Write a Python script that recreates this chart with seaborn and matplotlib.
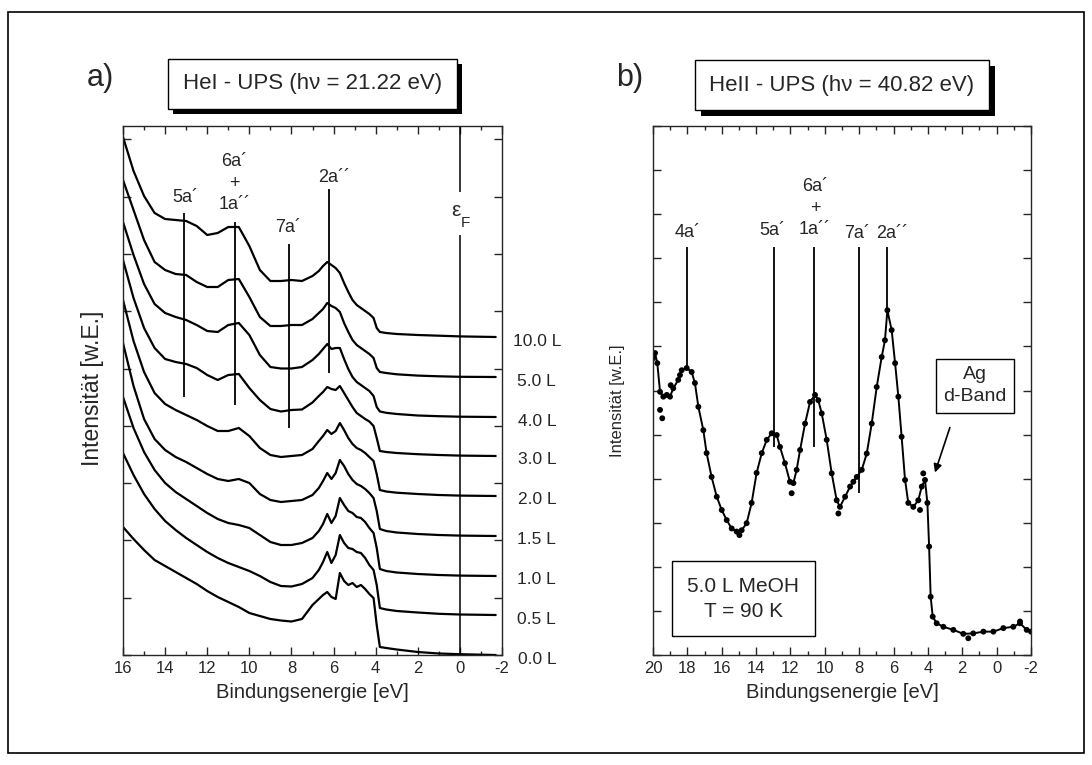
import matplotlib
matplotlib.use("Agg")
import matplotlib.pyplot as plt
from matplotlib.patches import Rectangle
from matplotlib.ticker import MultipleLocator
import seaborn as sns
import pandas as pd

# ---------------- panel a: HeI spectra (intensity above each curve's own baseline)
energy_a = [16, 15.5, 15, 14.5, 14, 13.5, 13, 12.5, 12, 11.5, 11, 10.5, 10, 9.5, 9, 8.5, 8,
            7.5, 7, 6.7, 6.5, 6.3, 6.1, 5.9, 5.7, 5.5, 5.3, 5.1, 4.9, 4.7, 4.5, 4.3, 4.1,
            3.95, 3.8, 3.5, 3, 2, 1, 0, -1.7]
exposures = ["0.0 L", "0.5 L", "1.0 L", "1.5 L", "2.0 L", "3.0 L", "4.0 L", "5.0 L", "10.0 L"]
offsets_a = [0, 40, 79, 119, 159, 199, 238, 278, 318]

spec_00 = [128, 116, 105, 95, 89, 83, 77, 71, 64, 58, 53, 48, 42, 39, 36, 34.5, 33.5, 36, 50, 56,
           60, 63, 58, 56, 82, 74, 70, 72, 68, 70, 66, 61, 57, 30, 8, 7, 5.5, 3, 1.5, 0.8, 0]
spec_05 = [162, 140, 121, 106, 94, 85, 77, 70, 63, 57, 52, 48, 44, 39, 33, 29, 28.5, 31, 37, 45,
           53, 63, 52, 60, 80, 72, 67, 66, 63, 62, 57, 50, 45, 30, 7, 5.5, 4, 2.5, 1.2, 0.5, 0]
spec_10 = [179, 148, 124, 106, 93, 84, 77, 70, 63, 57, 53, 51, 48, 41, 34, 31, 31, 33, 38, 45,
           52, 62, 53, 60, 78, 71, 65, 63, 59, 58, 54, 48, 43, 28, 7, 5, 3.5, 2, 1, 0.4, 0]
spec_15 = [193, 150, 117, 97, 86, 79, 74, 68, 62, 57, 55, 57, 53, 42, 36, 34, 35, 36, 41, 48,
           55, 63, 57, 63, 76, 70, 62, 56, 52, 50, 47, 43, 38, 25, 7, 5, 3.5, 2, 1, 0.4, 0]
spec_20 = [196, 155, 124, 103, 92, 86, 81, 76, 70, 65, 65, 68, 60, 48, 41, 39, 40, 41, 47, 55,
           60, 66, 62, 65, 73, 66, 58, 52, 48, 46, 43, 39, 35, 22, 6, 4.5, 3.3, 2, 1, 0.4, 0]
spec_30 = [196, 158, 128, 108, 97, 94, 92, 88, 81, 76, 81, 82, 68, 56, 47, 44.5, 46, 46.5, 53.5, 60,
           64, 69, 67, 66, 70, 63, 56, 49, 43, 40, 37, 34.5, 30, 18, 5, 4, 3, 1.8, 1, 0.4, 0]
spec_40 = [195, 162, 133, 113, 104, 100, 97, 92, 86, 85, 92, 94, 82, 62, 50, 48.5, 48.5, 50, 57, 63,
           68, 73, 68, 69, 69, 58, 48, 40, 35, 32, 29, 26, 21, 10, 5.5, 4.2, 3, 1.5, 0.8, 0.3, 0]
spec_50 = [197, 167, 137, 115, 107, 103, 102, 95, 90, 90, 97, 98, 80, 60, 51, 51, 52, 52, 58, 64,
           68, 74, 71, 69, 65, 54, 45, 37, 32, 29, 26, 23, 19, 9, 5, 4, 2.7, 1.4, 0.7, 0.2, 0]
spec_100 = [200, 166, 141, 124, 118, 117, 116, 111, 102, 104, 110, 110, 91, 67, 56, 56, 57, 56, 61, 66,
            71, 75, 72, 69, 64, 54, 45, 37, 32, 29, 26, 23, 19, 9, 5, 4, 3, 2, 1.3, 0.6, 0]
spectra_a = [spec_00, spec_05, spec_10, spec_15, spec_20, spec_30, spec_40, spec_50, spec_100]

# peak markers panel a: energy, line bottom, line top
peaks_a_e = [13.1, 10.7, 8.1, 6.2]
peaks_a_lo = [258, 250, 227, 282]
peaks_a_hi = [442, 433, 411, 466]

# ---------------- panel b: HeII spectrum of 5.0 L MeOH
energy_b = [20.0, 19.88, 19.75, 19.59, 19.40, 19.20, 19.01, 18.82, 18.53, 18.33, 18.04, 17.75,
            17.56, 17.36, 17.07, 16.88, 16.59, 16.29, 16.00, 15.71, 15.42, 15.13, 14.84, 14.55,
            14.26, 13.97, 13.67, 13.38, 13.09, 12.80, 12.61, 12.32, 12.03, 11.83, 11.64, 11.44,
            11.15, 10.86, 10.57, 10.38, 10.18, 9.89, 9.60, 9.31, 9.12, 8.82, 8.53, 8.14, 7.85,
            7.56, 7.27, 6.98, 6.69, 6.50, 6.36, 6.11, 5.91, 5.72, 5.53, 5.33, 5.14, 4.85, 4.56,
            4.36, 4.17, 4.03, 3.93, 3.84, 3.72, 3.49, 3.10, 2.52, 1.94, 1.36, 0.77, 0.19, -0.39,
            -0.97, -1.36, -1.75, -2.0]
intens_b = [6.73, 6.85, 6.62, 5.97, 5.86, 5.90, 5.86, 6.05, 6.24, 6.46, 6.51, 6.42, 6.17, 5.63,
            5.10, 4.58, 4.04, 3.59, 3.29, 3.06, 2.87, 2.80, 2.83, 2.99, 3.45, 4.13, 4.58, 4.88,
            5.03, 4.99, 4.72, 4.35, 3.93, 3.90, 4.20, 4.65, 5.25, 5.74, 5.90, 5.78, 5.48, 4.88,
            4.12, 3.51, 3.36, 3.59, 3.82, 4.04, 4.20, 4.57, 5.25, 6.08, 6.76, 7.14, 7.82, 7.37,
            6.62, 5.86, 4.95, 3.97, 3.45, 3.36, 3.51, 3.82, 3.97, 3.45, 2.46, 1.32, 0.87, 0.72,
            0.64, 0.57, 0.48, 0.49, 0.53, 0.53, 0.61, 0.64, 0.72, 0.57, 0.53]
# scattered points off the smooth trace
energy_b_extra = [19.46, 19.59, 18.97, 18.43, 14.97, 11.93, 9.21, 8.34, 4.46, 4.27, 1.65, -1.36]
intens_b_extra = [5.37, 5.56, 6.12, 6.35, 2.72, 3.67, 3.21, 3.93, 3.29, 4.12, 0.38, 0.76]

peak_names_b = ["4a\u00b4", "5a\u00b4", "6a\u00b4\n+\n1a\u00b4\u00b4", "7a\u00b4", "2a\u00b4\u00b4"]
peaks_b_e = [18.0, 12.97, 10.62, 8.0, 6.36]
peaks_b_lo = [6.54, 4.72, 4.72, 3.67, 7.8]
peaks_b_hi = [9.26, 9.26, 9.26, 9.26, 9.26]

# ---------------- style
sns.set_style("ticks")
plt.rcParams["font.family"] = ["Liberation Sans", "DejaVu Sans"]
plt.rcParams["axes.unicode_minus"] = False
plt.rcParams["xtick.direction"] = "in"
plt.rcParams["ytick.direction"] = "in"

W, H = 1092, 765
fig = plt.figure(figsize=(10.92, 7.65), dpi=100)


def fig_rect(x0, y0, x1, y1, **kw):
    # rectangle given in image pixels (origin top-left)
    r = Rectangle((x0 / W, 1 - y1 / H), (x1 - x0) / W, (y1 - y0) / H,
                  transform=fig.transFigure, **kw)
    fig.add_artist(r)


def title_box(x0, y0, x1, y1, text, sh):
    fig_rect(x0 + sh, y0 + sh, x1 + sh, y1 + sh, fc="black", ec="black", lw=0)
    fig_rect(x0, y0, x1, y1, fc="white", ec="black", lw=1)
    fig.text((x0 + x1) / 2 / W, 1 - (y0 + y1) / 2 / H, text, ha="center", va="center",
             fontsize=16)


def style_axes(ax):
    for s in ax.spines.values():
        s.set_linewidth(1.0)
        s.set_visible(True)
    ax.tick_params(which="both", top=True, right=True, labelleft=False, width=1.0)
    ax.tick_params(which="major", length=6, labelsize=12, pad=4)
    ax.tick_params(which="minor", length=3)
    ax.xaxis.set_major_locator(MultipleLocator(2))
    ax.xaxis.set_minor_locator(MultipleLocator(1))
    ax.set_xlabel("Bindungsenergie [eV]", fontsize=14.5)
    ax.xaxis.set_label_coords(0.5, -0.053)


# outer frame
fig_rect(8, 12, 1084, 753, fill=False, ec="black", lw=1.2)

# ---------------- panel a
ax_a = fig.add_axes([123 / W, 1 - 655 / H, 379 / W, 529 / H])
rows = []
for name, off, spec in zip(exposures, offsets_a, spectra_a):
    for e, v in zip(energy_a, spec):
        rows.append({"E": e, "I": v + off, "exp": name})
df_a = pd.DataFrame(rows)
sns.lineplot(data=df_a, x="E", y="I", units="exp", estimator=None, color="black",
             lw=1.6, ax=ax_a, legend=False)
ax_a.set_xlim(16, -2)
ax_a.set_ylim(0, 529)
ax_a.yaxis.set_major_locator(MultipleLocator(57.3))
style_axes(ax_a)
ax_a.set_ylabel("Intensit\u00e4t [w.E.]", fontsize=16.5)
ax_a.yaxis.set_label_coords(-0.05, 0.505)

ax_a.vlines(peaks_a_e, peaks_a_lo, peaks_a_hi, color="black", lw=1.3)
ax_a.vlines([0, 0], [0, 463], [420, 529], color="black", lw=1.1)
lab = dict(ha="center", va="center", fontsize=13)
ax_a.text(13.05, 457, "5a\u00b4", **lab)
ax_a.text(10.7, 472, "6a\u00b4\n+\n1a\u00b4\u00b4", linespacing=1.35, **lab)
ax_a.text(8.15, 428, "7a\u00b4", **lab)
ax_a.text(5.95, 478, "2a\u00b4\u00b4", **lab)
ax_a.text(0.2, 444, "\u03b5", ha="center", va="center", fontsize=15)
ax_a.text(-0.25, 432, "F", ha="center", va="center", fontsize=11)
for name, off in zip(exposures, offsets_a):
    ax_a.text(1.092, off - 4, name, transform=ax_a.get_yaxis_transform(),
              ha="center", va="center", fontsize=12.5)

# ---------------- panel b
ax_b = fig.add_axes([653 / W, 1 - 655 / H, 378 / W, 529 / H])
df_b = pd.DataFrame({"E": energy_b, "I": intens_b})
sns.lineplot(data=df_b, x="E", y="I", sort=False, color="black", lw=1.4, ax=ax_b)
sns.scatterplot(data=df_b, x="E", y="I", color="black", s=18, edgecolor="none", ax=ax_b)
sns.scatterplot(x=energy_b_extra, y=intens_b_extra, color="black", s=18, edgecolor="none", ax=ax_b)
ax_b.set_xlim(20, -2)
ax_b.set_ylim(0, 12)
ax_b.yaxis.set_major_locator(MultipleLocator(1))
style_axes(ax_b)
ax_b.set_ylabel("Intensit\u00e4t [w.E.]", fontsize=12)
ax_b.yaxis.set_label_coords(-0.074, 0.48)

ax_b.vlines(peaks_b_e, peaks_b_lo, peaks_b_hi, color="black", lw=1.3)
ax_b.text(18.0, 9.58, peak_names_b[0], **lab)
ax_b.text(13.03, 9.64, peak_names_b[1], **lab)
ax_b.text(10.57, 10.13, peak_names_b[2], linespacing=1.35, **lab)
ax_b.text(8.14, 9.57, peak_names_b[3], **lab)
ax_b.text(6.11, 9.56, peak_names_b[4], **lab)

ax_b.text(1.26, 6.11, "Ag\nd-Band", ha="center", va="center", fontsize=14, linespacing=1.35,
          bbox=dict(boxstyle="square,pad=0.4", fc="white", ec="black", lw=1))
ax_b.annotate("", xy=(3.64, 4.08), xytext=(2.67, 5.22),
              arrowprops=dict(arrowstyle="-|>", color="black", lw=1.2, mutation_scale=12))
ax_b.text(14.74, 1.28, "5.0 L MeOH\nT = 90 K", ha="center", va="center", fontsize=15,
          linespacing=1.4, bbox=dict(boxstyle="square,pad=0.75", fc="white", ec="black", lw=1))

# ---------------- titles
title_box(168, 59, 457, 109, "HeI - UPS (h\u03bd = 21.22 eV)", 5)
title_box(695, 60, 989, 110, "HeII - UPS (h\u03bd = 40.82 eV)", 6)
fig.text(100 / W, 1 - 78 / H, "a)", ha="center", va="center", fontsize=22)
fig.text(630 / W, 1 - 78 / H, "b)", ha="center", va="center", fontsize=22)

fig.savefig("out.png", dpi=100)
